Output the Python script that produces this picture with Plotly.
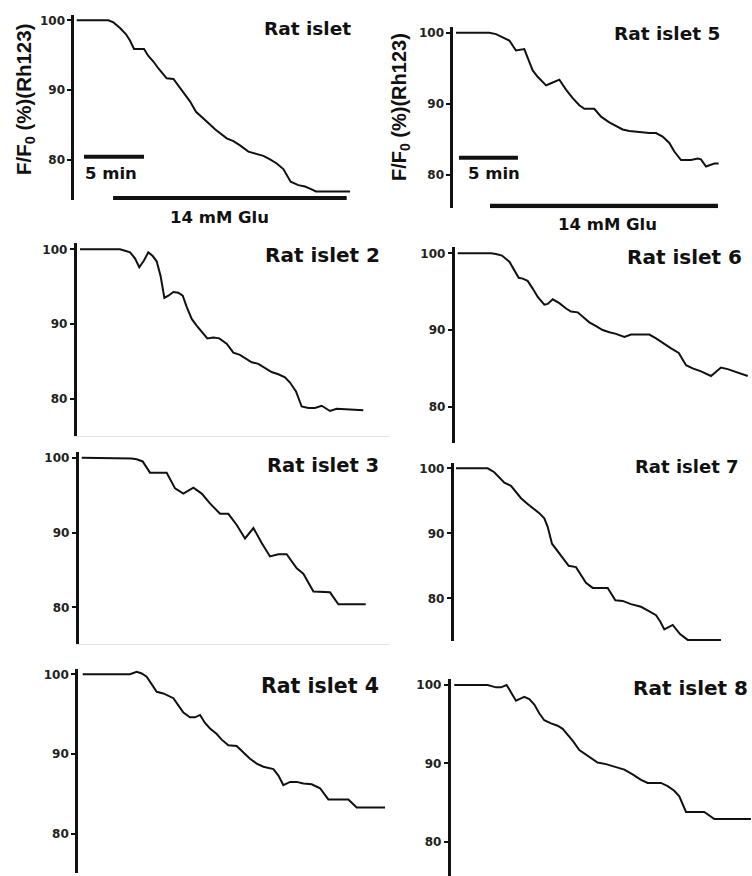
import plotly.graph_objects as go

W, H = 752, 876

# ---------------- data (time in min, F/F0 in %) ----------------
titles = ["Rat islet", "Rat islet 2", "Rat islet 3", "Rat islet 4",
          "Rat islet 5", "Rat islet 6", "Rat islet 7", "Rat islet 8"]
y_ticks = [80, 90, 100]
y_label = "F/F<sub>0</sub> (%)(Rh123)"
glu_label = "14 mM Glu"
scale_label = "5 min"
scale_len = 5

t1 = [0, 2.64, 3.06, 3.61, 4.11, 4.44, 4.78, 5.61, 5.97, 6.39, 6.81, 7.22, 7.5, 8.06, 8.47,
      8.97, 9.44, 9.94, 10.42, 10.97, 11.53, 11.94, 12.5, 13.06, 13.61, 14.31, 14.86, 15.56,
      16.11, 16.67, 17.22, 17.83, 18.47, 19.03, 19.44, 19.94, 22.78]
v1 = [100, 100, 99.7, 98.9, 98.0, 97.1, 95.9, 95.9, 94.9, 94.1, 93.1, 92.3, 91.7, 91.6, 90.7,
      89.6, 88.4, 86.9, 86.1, 85.3, 84.4, 83.8, 83.1, 82.7, 82.1, 81.2, 80.9, 80.6,
      80.1, 79.5, 78.7, 76.9, 76.4, 76.2, 75.9, 75.5, 75.5]

t2 = [0, 3.33, 3.75, 4.17, 4.58, 4.94, 5.33, 5.69, 6.06, 6.39, 6.72, 7.03, 7.36, 7.78, 8.19,
      8.56, 8.89, 9.31, 9.72, 10.22, 10.61, 11.11, 11.61, 12.22, 12.78, 13.33, 13.89, 14.31,
      14.86, 15.42, 15.97, 16.53, 17.08, 17.5, 18.0, 18.47, 19.03, 19.58, 20.14, 20.83, 21.39,
      22.5, 23.61]
v2 = [100, 100, 99.8, 99.6, 98.8, 97.6, 98.5, 99.6, 99.1, 98.4, 96.4, 93.5, 93.8, 94.3, 94.2,
      93.8, 92.3, 90.7, 89.8, 88.8, 88.1, 88.2, 88.1, 87.4, 86.2, 85.9, 85.3, 84.9,
      84.7, 84.1, 83.6, 83.3, 82.9, 82.2, 81.0, 79.0, 78.8, 78.8, 79.1, 78.4, 78.7,
      78.6, 78.5]

t3 = [0, 3.61, 4.17, 4.58, 5.08, 5.69, 7.08, 7.78, 8.47, 9.31, 10.0, 10.69, 11.53, 12.22,
      12.92, 13.61, 14.31, 15.0, 15.69, 16.39, 17.08, 17.92, 18.47, 19.31, 20.69, 21.39, 23.67]
v3 = [100, 100, 99.9, 99.8, 99.5, 98.0, 98.0, 95.9, 95.2, 96.0, 95.2, 93.9, 92.5, 92.5,
      91.0, 89.2, 90.6, 88.6, 86.8, 87.1, 87.1, 85.2, 84.5, 82.1, 82.0, 80.4, 80.4]

t4 = [0, 3.94, 4.5, 4.92, 5.33, 5.75, 6.17, 6.72, 7.14, 7.56, 7.97, 8.39, 8.94, 9.36, 9.78,
      10.19, 10.61, 11.17, 11.58, 12.14, 12.83, 13.39, 13.94, 14.5, 15.06, 15.89, 16.31,
      16.72, 17.28, 17.83, 18.39, 19.08, 19.78, 20.47, 22.14, 22.83, 25.19]
v4 = [100, 100, 100.3, 100.1, 99.7, 98.7, 97.8, 97.6, 97.3, 97.0, 96.1, 95.2, 94.6, 94.6, 94.9,
      93.9, 93.2, 92.5, 91.8, 91.1, 91.0, 90.2, 89.4, 88.8, 88.4, 88.1, 87.3,
      86.1, 86.5, 86.5, 86.3, 86.2, 85.7, 84.3, 84.3, 83.3, 83.3]

t5 = [0, 2.82, 3.39, 3.95, 4.52, 5.08, 5.37, 5.79, 6.21, 6.5, 6.92, 7.34, 7.63, 8.05, 8.76,
      9.32, 9.89, 10.45, 10.88, 11.72, 12.29, 12.99, 13.56, 14.12, 14.69, 15.54, 16.38, 16.95,
      17.51, 18.08, 18.5, 19.07, 19.92, 20.48, 20.76, 21.19, 21.61, 21.89, 22.26]
v5 = [100, 100, 99.8, 99.4, 98.9, 97.5, 97.6, 97.7, 95.9, 94.7, 93.8, 93.0, 92.6, 92.9, 93.4,
      92.0, 90.8, 89.8, 89.3, 89.3, 88.2, 87.4, 86.9, 86.4, 86.2, 86.0, 85.9, 85.9,
      85.4, 84.5, 83.3, 82.1, 82.1, 82.3, 82.2, 81.2, 81.4, 81.6, 81.6]

t6 = [0, 2.78, 3.19, 3.69, 4.31, 4.72, 5.08, 5.42, 5.83, 6.25, 6.67, 7.22, 7.5, 7.92, 8.47,
      9.03, 9.44, 10.0, 10.42, 10.97, 11.53, 12.08, 12.64, 13.19, 13.89, 14.44, 15.42, 15.97,
      16.53, 17.08, 17.78, 18.42, 19.03, 19.58, 20.28, 21.11, 21.53, 21.94, 22.5, 23.19, 24.17]
v6 = [100, 100, 99.9, 99.7, 98.9, 97.8, 96.8, 96.7, 96.4, 95.4, 94.3, 93.3, 93.4, 94.0, 93.5,
      92.8, 92.4, 92.3, 91.7, 91.0, 90.5, 90.0, 89.7, 89.5, 89.1, 89.4, 89.4, 89.4,
      88.9, 88.3, 87.6, 87.0, 85.4, 85.0, 84.6, 84.0, 84.6, 85.1, 84.9, 84.5, 84.0]

t7 = [0, 2.64, 3.19, 3.61, 4.03, 4.58, 5.0, 5.42, 5.97, 6.53, 6.94, 7.36, 7.64, 8.0, 8.47,
      8.89, 9.39, 10.0, 10.42, 10.83, 11.39, 12.64, 13.28, 13.89, 14.58, 15.42, 16.11, 16.67,
      17.03, 17.36, 18.06, 18.67, 19.31, 22.08]
v7 = [100, 100, 99.4, 98.6, 97.8, 97.3, 96.4, 95.4, 94.5, 93.7, 93.1, 92.3, 91.0, 88.4, 87.2,
      86.2, 85.0, 84.8, 83.6, 82.4, 81.6, 81.6, 79.7, 79.6, 79.1, 78.7, 78.0, 77.4,
      76.4, 75.2, 75.9, 74.5, 73.6, 73.6]

t8 = [0, 2.78, 3.47, 3.89, 4.36, 4.72, 5.14, 5.42, 5.83, 6.25, 6.67, 7.08, 7.5, 8.06, 8.61,
      9.03, 9.44, 9.86, 10.42, 10.97, 11.53, 11.94, 12.64, 13.33, 14.17, 14.86, 15.56, 16.11,
      17.22, 17.78, 18.33, 18.75, 19.31, 20.83, 21.67, 24.72]
v8 = [100, 100, 99.7, 99.7, 100, 99.1, 98.0, 98.2, 98.5, 98.2, 97.5, 96.4, 95.5, 95.1, 94.8,
      94.4, 93.7, 92.9, 91.7, 91.1, 90.5, 90.1, 89.9, 89.6, 89.2, 88.6, 87.9, 87.5,
      87.5, 87.1, 86.5, 85.8, 83.8, 83.8, 82.9, 82.9]

series = [(t1, v1), (t2, v2), (t3, v3), (t4, v4), (t5, v5), (t6, v6), (t7, v7), (t8, v8)]

# scale bar (start time, level), glucose bar (start, end, level) for panels 1 and 5
scale_bar = {1: (0.61, 80.47), 5: (0.25, 82.43)}
glu_bar = {1: (3.03, 22.5, 74.52), 5: (2.88, 22.2, 75.64)}

# ---------------- layout geometry (pixels in the 752x876 page) ----------------
# axis_x, right, top, bottom, y100, y80, trace start px, px per min
geom = [
    (73.0, 390, 15.0, 200.0, 20.3, 160.0, 76.7, 12.0),
    (75.3, 390, 243.3, 436.0, 249.3, 399.0, 80.0, 12.0),
    (77.3, 390, 451.7, 644.0, 457.7, 607.3, 81.7, 12.0),
    (76.7, 390, 668.7, 872.7, 674.3, 833.7, 82.7, 12.0),
    (452.0, 751, 26.7, 208.3, 32.7, 175.0, 456.0, 11.8),
    (453.3, 751, 246.7, 443.0, 253.3, 406.7, 457.7, 12.0),
    (452.3, 751, 462.7, 641.0, 468.3, 598.3, 456.0, 12.0),
    (449.3, 751, 679.3, 876.0, 685.0, 841.7, 454.3, 12.0),
]
# title right edge px, title centre px, font size
title_pos = [(353, 28, 18.5), (382, 255, 20), (381, 465, 19.5), (381, 686, 20.5),
             (722, 34, 18.5), (744, 257, 20), (741, 466, 18), (750, 688, 20)]
faint_xline = {2, 3}
# glucose label: centre time and vertical centre px; y-label centre px
glu_text = {1: (11.94, 217), 5: (12.8, 224.5)}
ylab_pos = [(25, 99, 20.5), (400, 107, 20)]

INK = "#111111"
TFONT = "DejaVu Sans"

fig = go.Figure()
layout = {}
for i, ((t, v), g) in enumerate(zip(series, geom)):
    k = i + 1
    sfx = "" if k == 1 else str(k)
    ax_x, right, top, bottom, y100, y80, t0, ppm = g
    ppu = (y80 - y100) / 20.0
    yr = [80 - (bottom - y80) / ppu, 100 + (y100 - top) / ppu]
    left = ax_x + 1.2
    xr = [(left - t0) / ppm, (right - t0) / ppm]
    fig.add_trace(go.Scatter(x=t, y=v, mode="lines", line=dict(color=INK, width=2),
                             xaxis="x" + sfx, yaxis="y" + sfx, hoverinfo="skip",
                             showlegend=False))
    layout["xaxis" + sfx] = dict(domain=[left / W, right / W], range=xr, anchor="y" + sfx,
                                 showticklabels=False, ticks="", showgrid=False,
                                 zeroline=False, fixedrange=True,
                                 showline=(k in faint_xline), linecolor="#e4e4e4",
                                 linewidth=1)
    layout["yaxis" + sfx] = dict(domain=[1 - bottom / H, 1 - top / H], range=yr,
                                 anchor="x" + sfx, showline=True, linecolor=INK,
                                 linewidth=2.5, ticks="outside", ticklen=4, tickwidth=1.5,
                                 tickcolor=INK, tickvals=y_ticks, showgrid=False,
                                 zeroline=False, fixedrange=True,
                                 tickfont=dict(family=TFONT, size=12, color="#222",
                                               weight="bold"))

annotations = []
shapes = []
for i, (tx, (rx, cy, fs)) in enumerate(zip(titles, title_pos)):
    annotations.append(dict(text=tx, xref="paper", yref="paper", x=rx / W, y=1 - cy / H,
                            xanchor="right", yanchor="middle", showarrow=False,
                            font=dict(family=TFONT, size=fs, color=INK, weight="bold")))

for k in (1, 5):
    sfx = "" if k == 1 else str(k)
    s0, sl = scale_bar[k]
    shapes.append(dict(type="line", xref="x" + sfx, yref="y" + sfx, x0=s0, x1=s0 + scale_len,
                       y0=sl, y1=sl, line=dict(color=INK, width=4)))
    g0, g1, gl = glu_bar[k]
    shapes.append(dict(type="line", xref="x" + sfx, yref="y" + sfx, x0=g0, x1=g1,
                       y0=gl, y1=gl, line=dict(color=INK, width=4.5)))
    gx, gy = glu_text[k]
    annotations.append(dict(text=glu_label, xref="x" + sfx, yref="paper", x=gx,
                            y=1 - gy / H, xanchor="center", yanchor="middle",
                            showarrow=False,
                            font=dict(family=TFONT, size=16.5, color=INK, weight="bold")))

annotations += [
    dict(text=scale_label, xref="x", yref="y", x=0.55, y=78.1, xanchor="left",
         yanchor="middle", showarrow=False,
         font=dict(family=TFONT, size=16.5, color=INK, weight="bold")),
    dict(text=scale_label, xref="x5", yref="y5", x=0.85, y=80.2, xanchor="left",
         yanchor="middle", showarrow=False,
         font=dict(family=TFONT, size=16.5, color=INK, weight="bold")),
]
for (lx, ly, fs) in ylab_pos:
    annotations.append(dict(text=y_label, xref="paper", yref="paper", x=lx / W,
                            y=1 - ly / H, xanchor="center", yanchor="middle",
                            textangle=-90, showarrow=False,
                            font=dict(family="Liberation Sans", size=fs, color=INK,
                                      weight="bold")))

fig.update_layout(width=W, height=H, margin=dict(l=0, r=0, t=0, b=0),
                  paper_bgcolor="white", plot_bgcolor="white", showlegend=False,
                  annotations=annotations, shapes=shapes, **layout)

fig.write_html("out.html", config={"displayModeBar": False},
               post_script="document.body.style.margin='0';document.body.style.overflow='hidden';")
